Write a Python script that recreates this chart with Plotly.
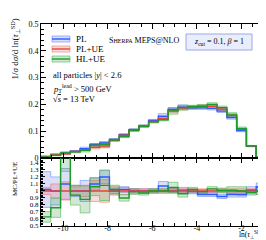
import numpy as np
import plotly.graph_objects as go

# ---------------- data ----------------
X_LO, X_HI, N_BINS = -10.99, -0.9, 23
series_names = ["PL", "PL+UE", "HL+UE"]

pl_vals = [0.006, 0.013, 0.018, 0.025, 0.035, 0.050, 0.056, 0.069, 0.087, 0.106, 0.120, 0.140,
           0.156, 0.181, 0.190, 0.187, 0.187, 0.185, 0.175, 0.151, 0.102, 0.044, 0.004]
plue_vals = [0.005, 0.012, 0.016, 0.024, 0.031, 0.040, 0.045, 0.066, 0.085, 0.104, 0.119, 0.136,
             0.148, 0.176, 0.186, 0.190, 0.193, 0.193, 0.183, 0.160, 0.108, 0.045, 0.004]
hlue_vals = [0.004, 0.010, 0.019, 0.023, 0.029, 0.048, 0.050, 0.067, 0.080, 0.103, 0.118, 0.135,
             0.143, 0.176, 0.188, 0.191, 0.193, 0.200, 0.188, 0.161, 0.109, 0.045, 0.004]

# ratios to PL+UE
pl_ratio = [1.02, 1.00, 1.10, 1.00, 1.00, 1.10, 1.20, 1.00, 1.02, 1.00, 1.00, 1.00,
            1.07, 1.00, 1.01, 0.99, 0.95, 0.95, 0.92, 0.95, 0.95, 1.01, 1.06]
plue_ratio = [1.0] * 23
hlue_ratio = [0.63, 0.76, 1.60, 0.94, 0.88, 1.06, 1.08, 1.02, 0.90, 0.99, 0.97, 1.00,
              1.00, 1.05, 0.96, 1.02, 0.99, 1.03, 1.01, 1.01, 1.00, 0.98, 1.00]

# relative uncertainties
pl_err = [0.25, 0.20, 0.20, 0.08, 0.15, 0.08, 0.08, 0.04, 0.04, 0.03, 0.03, 0.03,
          0.06, 0.03, 0.04, 0.03, 0.03, 0.03, 0.03, 0.04, 0.04, 0.05, 0.05]
plue_err = [0.05, 0.10, 0.13, 0.06, 0.08, 0.15, 0.16, 0.06, 0.05, 0.03, 0.03, 0.03,
            0.03, 0.03, 0.03, 0.03, 0.03, 0.03, 0.03, 0.03, 0.03, 0.03, 0.05]
hlue_err = [0.12, 0.18, 0.20, 0.15, 0.22, 0.12, 0.20, 0.06, 0.05, 0.04, 0.03, 0.03,
            0.03, 0.07, 0.05, 0.03, 0.03, 0.03, 0.03, 0.05, 0.06, 0.04, 0.05]

x_tick_vals = [-10, -8, -6, -4, -2]

# ---------------- style ----------------
FONT = "Liberation Serif"
line_cols = ["#2d5bff", "#e8413c", "#1e9a2a"]
band_line_cols = ["rgba(90,130,255,0.55)", "rgba(240,110,100,0.55)", "rgba(60,180,70,0.55)"]
band_fill_cols = ["rgba(90,110,230,0.22)", "rgba(230,100,90,0.22)", "rgba(50,150,60,0.22)"]

edges = np.linspace(X_LO, X_HI, N_BINS + 1)


def steps(v):
    v = list(v)
    return v + [v[-1]]


fig = go.Figure()

vals = [pl_vals, plue_vals, hlue_vals]
ratios = [pl_ratio, plue_ratio, hlue_ratio]
errs = [pl_err, plue_err, hlue_err]

for panel, (xa, ya) in enumerate([("x", "y"), ("x2", "y2")]):
    for k in range(3):
        if panel == 0:
            c = np.array(vals[k])
        else:
            c = np.array(ratios[k])
        e = np.array(errs[k])
        up = c * (1 + e)
        lo = c * (1 - e)
        fig.add_trace(go.Scatter(x=edges, y=steps(up), mode="lines", line_shape="hv",
                                 line=dict(color=band_line_cols[k], width=1), xaxis=xa, yaxis=ya,
                                 showlegend=False, hoverinfo="skip"))
        fig.add_trace(go.Scatter(x=edges, y=steps(lo), mode="lines", line_shape="hv",
                                 line=dict(color=band_line_cols[k], width=1), fill="tonexty",
                                 fillcolor=band_fill_cols[k], xaxis=xa, yaxis=ya,
                                 showlegend=False, hoverinfo="skip"))
    for k in range(3):
        c = vals[k] if panel == 0 else ratios[k]
        fig.add_trace(go.Scatter(x=edges, y=steps(c), mode="lines", line_shape="hv",
                                 line=dict(color=line_cols[k], width=1.4), xaxis=xa, yaxis=ya,
                                 name=series_names[k], showlegend=False))

split = 68 / 202
axis_common = dict(showline=True, linecolor="black", linewidth=1, mirror="allticks",
                   ticks="inside", tickcolor="black", showgrid=False, zeroline=False,
                   tickfont=dict(family=FONT, size=8, color="black"))

fig.update_layout(
    width=266, height=240,
    margin=dict(l=33, r=8, t=16, b=22),
    plot_bgcolor="white", paper_bgcolor="white",
    font=dict(family=FONT, size=8, color="black"),
    showlegend=False,
    xaxis=dict(domain=[0, 1], anchor="y", range=[X_LO, X_HI], tickvals=x_tick_vals,
               showticklabels=False, ticklen=5,
               minor=dict(ticks="inside", dtick=0.5, tick0=-10, ticklen=3, tickcolor="black"),
               **axis_common),
    yaxis=dict(domain=[split, 1], anchor="x", range=[0, 0.5], dtick=0.1, tick0=0, ticklen=5,
               minor=dict(ticks="inside", dtick=0.02, ticklen=3, tickcolor="black"),
               **axis_common),
    xaxis2=dict(domain=[0, 1], anchor="y2", range=[X_LO, X_HI], matches="x",
                tickvals=x_tick_vals, ticktext=[str(v) for v in x_tick_vals], ticklen=5,
                ticklabelstandoff=-6,
                minor=dict(ticks="inside", dtick=0.5, tick0=-10, ticklen=3, tickcolor="black"),
                **axis_common),
    yaxis2=dict(domain=[0, split], anchor="x2", range=[0.5, 1.47], dtick=0.1, tick0=0.5,
                ticklen=4,
                minor=dict(ticks="inside", dtick=0.02, ticklen=2, tickcolor="black"),
                **{**axis_common, "tickfont": dict(family=FONT, size=7, color="black")}),
)


def px2paper(px, py):
    return (px - 33) / 225, (218 - py) / 202


annos = []
shapes = []

# legend
leg_rows = [31, 41, 51]
for k in range(3):
    x0, y0 = px2paper(44, leg_rows[k] - 3)
    x1, y1 = px2paper(62, leg_rows[k] + 3)
    shapes.append(dict(type="rect", xref="paper", yref="paper", x0=x0, x1=x1, y0=y1, y1=y0,
                       fillcolor=band_fill_cols[k], line=dict(color=band_line_cols[k], width=1)))
    xm0, ym = px2paper(44, leg_rows[k])
    xm1, _ = px2paper(62, leg_rows[k])
    shapes.append(dict(type="line", xref="paper", yref="paper", x0=xm0, x1=xm1, y0=ym, y1=ym,
                       line=dict(color=line_cols[k], width=1.4)))
    tx, ty = px2paper(66, leg_rows[k])
    annos.append(dict(x=tx, y=ty, xref="paper", yref="paper", xanchor="left", yanchor="middle",
                      text=series_names[k], showarrow=False, font=dict(family=FONT, size=9)))

info_lines = [(67, "all particles |<i>y</i>| &lt; 2.6"),
              (80, "<i>p</i><sub>T</sub><sup>lead</sup> &gt; 500 GeV"),
              (91, "√<span style='text-decoration:overline'><i>s</i></span> = 13 TeV")]
for py, t in info_lines:
    tx, ty = px2paper(43, py)
    annos.append(dict(x=tx, y=ty, xref="paper", yref="paper", xanchor="left", yanchor="middle",
                      text=t, showarrow=False, font=dict(family=FONT, size=8.5)))

tx, ty = px2paper(136, 33)
annos.append(dict(x=tx, y=ty, xref="paper", yref="paper", xanchor="center", yanchor="middle",
                  text="S<span style='font-size:6px'>HERPA</span> MEPS@NLO", showarrow=False,
                  font=dict(family=FONT, size=8)))

bx0, by0 = px2paper(178, 26)
bx1, by1 = px2paper(244, 42)
shapes.append(dict(type="rect", xref="paper", yref="paper", x0=bx0, x1=bx1, y0=by1, y1=by0,
                   fillcolor="#eaeefc", line=dict(color="#9aa8e6", width=1)))
tx, ty = px2paper(211, 34)
annos.append(dict(x=tx, y=ty, xref="paper", yref="paper", xanchor="center", yanchor="middle",
                  text="<i>z</i><sub>cut</sub> = 0.1, <i>β</i> = 1", showarrow=False,
                  font=dict(family=FONT, size=8)))

# axis titles
tx, ty = px2paper(7, 9)
annos.append(dict(x=tx, y=ty, xref="paper", yref="paper", xanchor="center", yanchor="top",
                  textangle=-90, showarrow=False, font=dict(family=FONT, size=9),
                  text="1/<i>σ</i> d<i>σ</i>/d ln(<i>τ</i><sub>⊥</sub><sup>SD</sup>)"))
tx, ty = px2paper(7, 152)
annos.append(dict(x=tx, y=ty, xref="paper", yref="paper", xanchor="center", yanchor="top",
                  textangle=-90, showarrow=False, font=dict(family=FONT, size=7),
                  text="MC/PL+UE"))
tx, ty = px2paper(258, 226.5)
annos.append(dict(x=tx, y=ty, xref="paper", yref="paper", xanchor="right", yanchor="middle",
                  showarrow=False, font=dict(family=FONT, size=7.5),
                  text="ln(<i>τ</i><sub>⊥</sub><sup>SD</sup>)"))

fig.update_layout(annotations=annos, shapes=shapes)
fig.write_html("out.html")
